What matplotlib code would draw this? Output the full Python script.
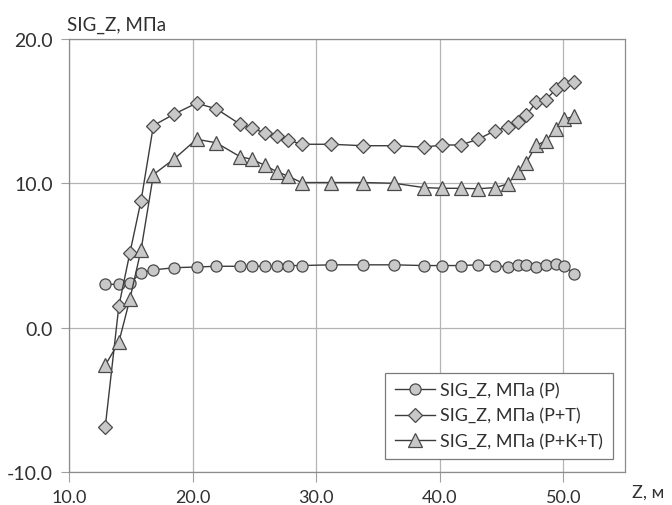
import matplotlib
matplotlib.use("Agg")
import matplotlib.pyplot as plt

plt.rcParams['font.family'] = ['Lato', 'DejaVu Sans']

# Z coordinate, m
z = [12.9, 14.0, 14.9, 15.8, 16.8, 18.5, 20.3, 21.9, 23.8, 24.8,
     25.8, 26.8, 27.7, 28.8, 31.2, 33.8, 36.3, 38.7, 40.2, 41.7,
     43.1, 44.5, 45.5, 46.3, 47.0, 47.8, 48.6, 49.4, 50.1, 50.9]

# SIG_Z, MPa
sig_p = [3.0, 3.0, 3.1, 3.8, 4.0, 4.15, 4.2, 4.25, 4.25, 4.25,
         4.25, 4.25, 4.3, 4.3, 4.35, 4.35, 4.35, 4.3, 4.3, 4.3,
         4.35, 4.3, 4.2, 4.35, 4.35, 4.2, 4.35, 4.4, 4.3, 3.7]
sig_pt = [-6.85, 1.5, 5.2, 8.8, 14.0, 14.8, 15.55, 15.15, 14.1, 13.8,
          13.5, 13.25, 13.0, 12.7, 12.7, 12.6, 12.6, 12.5, 12.65, 12.65,
          13.05, 13.65, 13.9, 14.25, 14.7, 15.6, 15.8, 16.5, 16.9, 17.0]
sig_pkt = [-2.6, -1.0, 2.0, 5.4, 10.6, 11.7, 13.05, 12.8, 11.85, 11.65,
           11.25, 10.8, 10.5, 10.05, 10.05, 10.05, 10.0, 9.7, 9.65, 9.65,
           9.62, 9.7, 9.95, 10.75, 11.42, 12.62, 12.94, 13.75, 14.44, 14.65]

labels = ['SIG_Z, МПа (P)', 'SIG_Z, МПа (P+T)', 'SIG_Z, МПа (P+K+T)']

fig = plt.figure(figsize=(6.72, 5.06), dpi=100)
ax = fig.add_axes([0.1034, 0.0652, 0.8266, 0.856])

line_c = '#3c3c3c'
face_c = '#c8c8c8'
edge_c = '#4a4a4a'

ax.plot(z, sig_p, '-o', color=line_c, lw=1.0, ms=8, mfc=face_c, mec=edge_c, mew=0.9, label=labels[0])
ax.plot(z, sig_pt, '-D', color=line_c, lw=1.0, ms=7, mfc=face_c, mec=edge_c, mew=0.9, label=labels[1])
ax.plot(z, sig_pkt, '-^', color=line_c, lw=1.0, ms=10, mfc=face_c, mec=edge_c, mew=0.9, label=labels[2])

ax.set_xlim(10, 55)
ax.set_ylim(-10, 20)
ax.set_xticks([10, 20, 30, 40, 50])
ax.set_yticks([-10, 0, 10, 20])
ax.xaxis.set_major_formatter(matplotlib.ticker.FormatStrFormatter('%.1f'))
ax.yaxis.set_major_formatter(matplotlib.ticker.FormatStrFormatter('%.1f'))
ax.grid(True, color='#b4b4b4', lw=0.9)
ax.set_axisbelow(True)
for s in ax.spines.values():
    s.set_color('#8c8c8c')
    s.set_linewidth(0.9)
ax.tick_params(axis='y', length=6, color='#a0a0a0', labelsize=14, pad=6, labelcolor='#303030')
ax.tick_params(axis='x', length=7, color='#a0a0a0', labelsize=13, pad=5, labelcolor='#303030')

fig.text(0.1, 0.95, 'SIG_Z, МПа', fontsize=13.5, color='#303030', ha='left', va='center')
fig.text(0.94, 0.027, 'Z, м', fontsize=13, color='#303030', ha='left', va='center')

leg = ax.legend(loc='lower right', bbox_to_anchor=(0.978, 0.03), fontsize=13,
                frameon=True, fancybox=False, framealpha=1, edgecolor='#7a7a7a',
                handlelength=2.2, handletextpad=0.3, borderpad=0.55, labelspacing=0.5,
                borderaxespad=0)
leg.get_frame().set_linewidth(0.9)
for t in leg.get_texts():
    t.set_color('#303030')

fig.savefig('out.png', dpi=100)
